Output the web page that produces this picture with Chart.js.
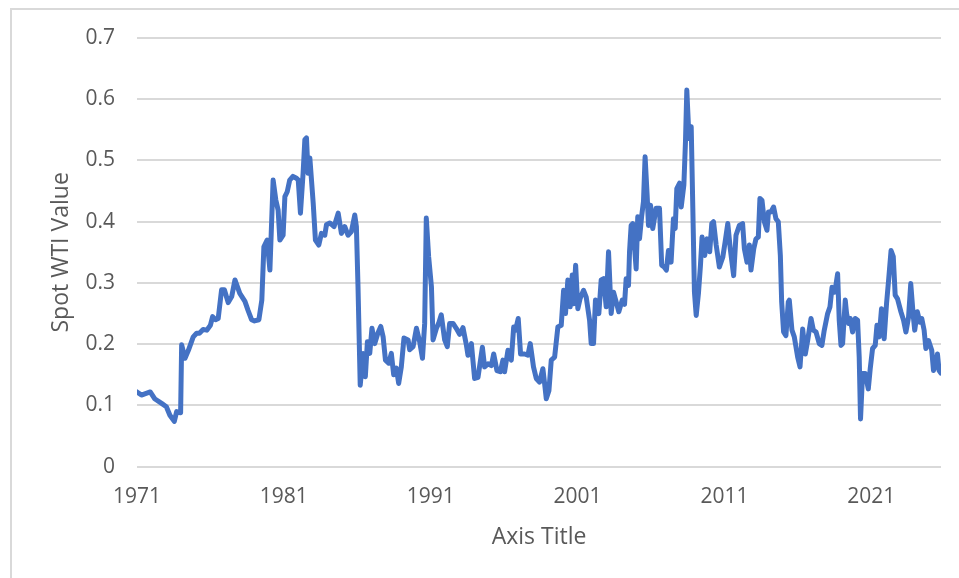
<!DOCTYPE html>
<html>
<head>
<meta charset="utf-8">
<script src="https://cdn.jsdelivr.net/npm/chart.js@4.4.1/dist/chart.umd.min.js"></script>
<style>
  html, body { margin: 0; padding: 0; background: #fff; overflow: hidden; }
  #frame {
    position: absolute; left: 10px; top: 8px; width: 2000px; height: 2000px;
    border-left: 2px solid #d9d9d9; border-top: 2px solid #d9d9d9;
  }
  #wrap { position: absolute; left: 0; top: 0; width: 959px; height: 578px; }
</style>
</head>
<body>
<div id="frame"></div>
<div id="wrap"><canvas id="chart" width="959" height="578"></canvas></div>
<script>
'use strict';

// sample dates (decimal years)
const sampleYears = [
  1971.00, 1971.30, 1971.90, 1972.20, 1972.70, 1973.00, 1973.24, 1973.54, 1973.70, 1973.97,
  1974.04, 1974.27, 1974.50, 1974.83, 1975.06, 1975.25, 1975.50, 1975.75, 1976.00, 1976.15,
  1976.35, 1976.53, 1976.76, 1976.95, 1977.21, 1977.45, 1977.67, 1978.00, 1978.35, 1978.55,
  1978.80, 1979.00, 1979.30, 1979.50, 1979.64, 1979.86, 1980.05, 1980.27, 1980.45, 1980.61,
  1980.73, 1980.95, 1981.07, 1981.23, 1981.40, 1981.62, 1981.86, 1981.98, 1982.13, 1982.31,
  1982.43, 1982.54, 1982.65, 1982.77, 1983.00, 1983.15, 1983.38, 1983.56, 1983.79, 1983.90,
  1984.13, 1984.42, 1984.70, 1984.92, 1985.15, 1985.37, 1985.60, 1985.83, 1985.94, 1986.05,
  1986.20, 1986.40, 1986.55, 1986.69, 1986.85, 1987.00, 1987.19, 1987.40, 1987.60, 1987.76,
  1987.92, 1988.14, 1988.32, 1988.48, 1988.66, 1988.82, 1989.00, 1989.18, 1989.46, 1989.57,
  1989.80, 1990.03, 1990.25, 1990.44, 1990.59, 1990.70, 1990.86, 1991.05, 1991.16, 1991.39,
  1991.54, 1991.72, 1991.95, 1992.13, 1992.29, 1992.52, 1992.74, 1992.97, 1993.20, 1993.42,
  1993.54, 1993.77, 1993.99, 1994.22, 1994.52, 1994.67, 1994.90, 1995.13, 1995.29, 1995.51,
  1995.74, 1995.92, 1996.03, 1996.26, 1996.49, 1996.65, 1996.78, 1996.96, 1997.12, 1997.39,
  1997.62, 1997.78, 1998.00, 1998.19, 1998.41, 1998.64, 1998.76, 1998.87, 1999.05, 1999.21,
  1999.44, 1999.66, 1999.89, 2000.05, 2000.18, 2000.34, 2000.50, 2000.64, 2000.73, 2000.87,
  2001.02, 2001.18, 2001.41, 2001.59, 2001.82, 2001.93, 2002.09, 2002.22, 2002.45, 2002.61,
  2002.77, 2002.95, 2003.11, 2003.29, 2003.45, 2003.63, 2003.81, 2004.04, 2004.20, 2004.31,
  2004.47, 2004.54, 2004.65, 2004.76, 2004.99, 2005.10, 2005.22, 2005.37, 2005.49, 2005.60,
  2005.74, 2005.83, 2005.97, 2006.12, 2006.35, 2006.58, 2006.73, 2006.90, 2007.05, 2007.19,
  2007.37, 2007.53, 2007.65, 2007.76, 2007.95, 2008.06, 2008.24, 2008.35, 2008.44, 2008.59,
  2008.74, 2008.85, 2008.96, 2009.08, 2009.24, 2009.37, 2009.48, 2009.66, 2009.82, 2010.00,
  2010.14, 2010.26, 2010.44, 2010.66, 2010.89, 2011.05, 2011.23, 2011.40, 2011.63, 2011.79,
  2012.02, 2012.24, 2012.36, 2012.54, 2012.70, 2012.81, 2013.00, 2013.15, 2013.31, 2013.42,
  2013.56, 2013.72, 2013.90, 2014.00, 2014.17, 2014.35, 2014.51, 2014.67, 2014.81, 2014.90,
  2015.03, 2015.19, 2015.35, 2015.42, 2015.60, 2015.76, 2015.99, 2016.15, 2016.33, 2016.51,
  2016.67, 2016.90, 2017.06, 2017.24, 2017.46, 2017.64, 2017.80, 2018.03, 2018.19, 2018.33,
  2018.52, 2018.71, 2018.82, 2018.94, 2019.05, 2019.23, 2019.32, 2019.46, 2019.57, 2019.73,
  2019.91, 2020.07, 2020.18, 2020.27, 2020.41, 2020.59, 2020.80, 2020.93, 2021.09, 2021.27,
  2021.39, 2021.54, 2021.70, 2021.88, 2022.04, 2022.18, 2022.35, 2022.50, 2022.63, 2022.79,
  2023.02, 2023.20, 2023.36, 2023.54, 2023.69, 2023.86, 2023.96, 2024.14, 2024.31, 2024.44,
  2024.60, 2024.72, 2024.90, 2025.12, 2025.24, 2025.40, 2025.51, 2025.62, 2025.74
];

const wtiValues = [
  0.122, 0.117, 0.122, 0.111, 0.103, 0.098, 0.084, 0.074, 0.090, 0.088,
  0.199, 0.177, 0.190, 0.212, 0.218, 0.218, 0.224, 0.223, 0.231, 0.245,
  0.240, 0.242, 0.289, 0.289, 0.268, 0.278, 0.305, 0.283, 0.270, 0.256,
  0.240, 0.238, 0.240, 0.272, 0.359, 0.370, 0.321, 0.468, 0.436, 0.419,
  0.370, 0.378, 0.441, 0.449, 0.468, 0.474, 0.471, 0.468, 0.414, 0.479,
  0.534, 0.537, 0.479, 0.504, 0.430, 0.370, 0.362, 0.381, 0.378, 0.395,
  0.398, 0.392, 0.414, 0.381, 0.392, 0.378, 0.384, 0.411, 0.392, 0.294,
  0.133, 0.185, 0.147, 0.204, 0.185, 0.226, 0.201, 0.218, 0.229, 0.212,
  0.174, 0.169, 0.185, 0.150, 0.161, 0.136, 0.163, 0.210, 0.207, 0.191,
  0.196, 0.226, 0.204, 0.177, 0.234, 0.406, 0.343, 0.294, 0.207, 0.226,
  0.234, 0.248, 0.207, 0.196, 0.234, 0.234, 0.226, 0.216, 0.227, 0.200,
  0.182, 0.201, 0.144, 0.146, 0.195, 0.163, 0.168, 0.165, 0.184, 0.157,
  0.155, 0.174, 0.155, 0.190, 0.174, 0.228, 0.223, 0.242, 0.184, 0.184,
  0.182, 0.201, 0.163, 0.144, 0.138, 0.160, 0.135, 0.111, 0.124, 0.174,
  0.179, 0.228, 0.231, 0.288, 0.250, 0.305, 0.261, 0.313, 0.266, 0.329,
  0.258, 0.275, 0.288, 0.277, 0.239, 0.201, 0.201, 0.272, 0.250, 0.305,
  0.307, 0.261, 0.351, 0.250, 0.285, 0.269, 0.253, 0.272, 0.265, 0.307,
  0.296, 0.351, 0.394, 0.397, 0.323, 0.408, 0.372, 0.410, 0.433, 0.506,
  0.443, 0.394, 0.427, 0.389, 0.422, 0.422, 0.329, 0.326, 0.321, 0.353,
  0.334, 0.405, 0.389, 0.454, 0.463, 0.424, 0.460, 0.531, 0.615, 0.536,
  0.555, 0.422, 0.285, 0.247, 0.285, 0.329, 0.375, 0.345, 0.372, 0.351,
  0.397, 0.400, 0.362, 0.326, 0.342, 0.367, 0.397, 0.356, 0.312, 0.378,
  0.394, 0.397, 0.356, 0.334, 0.362, 0.321, 0.356, 0.372, 0.375, 0.438,
  0.435, 0.400, 0.386, 0.416, 0.416, 0.424, 0.405, 0.400, 0.345, 0.269,
  0.220, 0.214, 0.269, 0.272, 0.223, 0.212, 0.179, 0.163, 0.225, 0.184,
  0.206, 0.242, 0.223, 0.220, 0.201, 0.198, 0.223, 0.250, 0.261, 0.293,
  0.285, 0.315, 0.239, 0.198, 0.201, 0.272, 0.250, 0.234, 0.242, 0.220,
  0.242, 0.239, 0.179, 0.078, 0.152, 0.152, 0.127, 0.160, 0.193, 0.198,
  0.231, 0.212, 0.258, 0.209, 0.266, 0.304, 0.353, 0.343, 0.280, 0.274,
  0.253, 0.239, 0.220, 0.244, 0.299, 0.247, 0.223, 0.253, 0.236, 0.242,
  0.223, 0.193, 0.206, 0.190, 0.157, 0.168, 0.184, 0.157, 0.153
];

const yearTicks = [1971, 1981, 1991, 2001, 2011, 2021];
const valueTicks = [0, 0.1, 0.2, 0.3, 0.4, 0.5, 0.6, 0.7];

const TEXT_COLOR = '#595959';
const GRID_COLOR = '#d9d9d9';
const LINE_COLOR = '#4472C4';
const FONT_FAMILY = '"Open Sans", sans-serif';

const points = sampleYears.map((year, i) => ({ x: year, y: wtiValues[i] }));

new Chart(document.getElementById('chart'), {
  type: 'line',
  data: {
    datasets: [{
      label: 'Spot WTI Value',
      data: points,
      borderColor: LINE_COLOR,
      borderWidth: 5,
      borderJoinStyle: 'round',
      borderCapStyle: 'round',
      pointRadius: 0,
      tension: 0,
      fill: false
    }]
  },
  options: {
    responsive: false,
    animation: false,
    devicePixelRatio: 1,
    layout: { padding: { left: 0, top: 38, right: 18, bottom: 0 } },
    plugins: {
      legend: { display: false },
      tooltip: { enabled: false }
    },
    scales: {
      x: {
        type: 'linear',
        min: 1971,
        max: 2025.75,
        afterBuildTicks: scale => { scale.ticks = yearTicks.map(v => ({ value: v })); },
        afterFit: scale => { scale.height = 111.3; },
        grid: { display: false, drawTicks: false },
        border: { display: false },
        ticks: {
          color: TEXT_COLOR,
          font: { family: FONT_FAMILY, size: 21 },
          padding: 18,
          maxRotation: 0,
          autoSkip: false,
          callback: v => String(v)
        },
        title: {
          display: true,
          text: 'Axis Title',
          color: TEXT_COLOR,
          font: { family: FONT_FAMILY, size: 23 },
          padding: { top: 0, bottom: 27 }
        }
      },
      y: {
        min: 0,
        max: 0.7,
        afterBuildTicks: scale => { scale.ticks = valueTicks.map(v => ({ value: v })); },
        afterFit: scale => { scale.width = 137; },
        grid: { color: GRID_COLOR, lineWidth: 2, drawTicks: false },
        border: { display: false },
        ticks: {
          color: TEXT_COLOR,
          font: { family: FONT_FAMILY, size: 21 },
          padding: 22,
          callback: v => String(+Number(v).toFixed(1))
        },
        title: {
          display: true,
          text: 'Spot WTI Value',
          color: TEXT_COLOR,
          font: { family: FONT_FAMILY, size: 23 },
          padding: { top: 48, bottom: 0 }
        }
      }
    }
  }
});
</script>
</body>
</html>
